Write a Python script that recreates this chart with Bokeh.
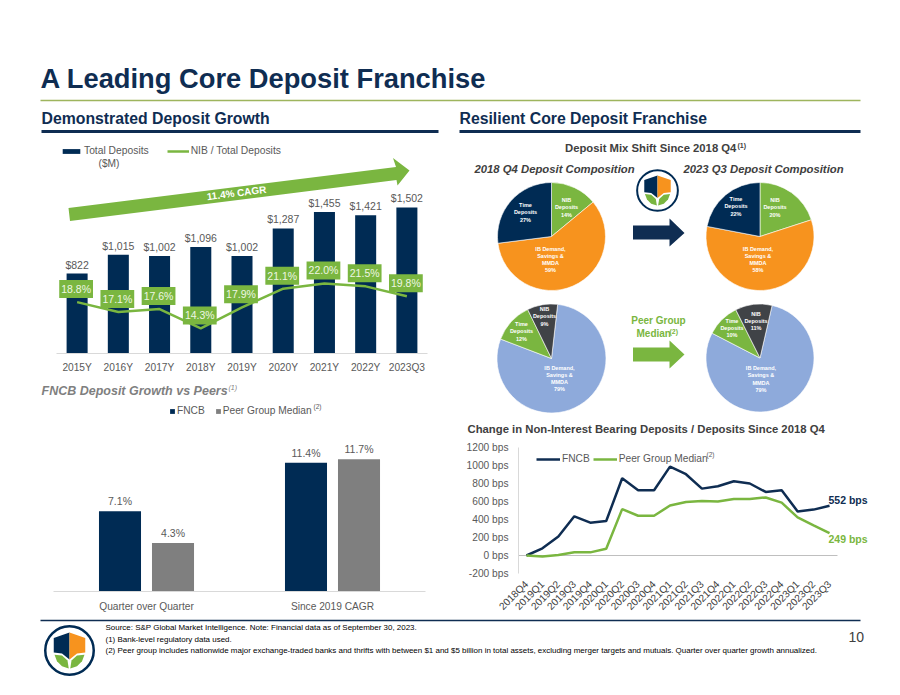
from math import pi
from bokeh.plotting import figure
from bokeh.layouts import column, row
from bokeh.models import (ColumnDataSource, Range1d, Label, Legend, LegendItem,
                          FixedTicker, PrintfTickFormatter)
from bokeh.core.properties import value
from bokeh.embed import file_html
from bokeh.resources import INLINE

# ---------- data ----------
years = ["2015Y", "2016Y", "2017Y", "2018Y", "2019Y", "2020Y", "2021Y", "2022Y", "2023Q3"]
total_deposits = [822, 1015, 1002, 1096, 1002, 1287, 1455, 1421, 1502]
nib_ratio = [18.8, 17.1, 17.6, 14.3, 17.9, 21.1, 22.0, 21.5, 19.8]

growth_groups = ["Quarter over Quarter", "Since 2019 CAGR"]
growth_fncb = [7.1, 11.4]
growth_peer = [4.3, 11.7]

quarters = ["2018Q4", "2019Q1", "2019Q2", "2019Q3", "2019Q4", "2020Q1", "2020Q2", "2020Q3", "2020Q4", "2021Q1",
            "2021Q2", "2021Q3", "2021Q4", "2022Q1", "2022Q2", "2022Q3", "2022Q4", "2023Q1", "2023Q2", "2023Q3"]
bps_fncb = [0, 80, 210, 435, 365, 383, 858, 725, 725, 988, 903, 743, 770, 825, 800, 706, 725, 490, 510, 552]
bps_peer = [0, -10, 5, 35, 35, 75, 515, 442, 442, 555, 595, 605, 600, 628, 628, 645, 587, 423, 335, 249]

fncb_cats = ["NIB\nDeposits", "IB Demand,\nSavings &\nMMDA", "Time\nDeposits"]
peer_cats = ["IB Demand,\nSavings &\nMMDA", "Time\nDeposits", "NIB\nDeposits"]
fncb_2018 = [14, 59, 27]
fncb_2023 = [20, 58, 22]
peer_2018 = [79, 12, 9]
peer_2023 = [79, 10, 11]

# ---------- style ----------
NAVY = "#002b54"
TXT_NAVY = "#0f2d52"
GREEN = "#7ab640"
ORANGE = "#f7931e"
BLUE = "#8eaadb"
DGRAY = "#404347"
GRAY = "#7f7f7f"
TXT = "#595959"
FONT = "Liberation Sans"
ORIGIN = {}


def lab(p, x, y, text, size=10, color=TXT, style="normal", align="left", angle=0):
    ox, oy = ORIGIN[p.id]
    p.add_layout(Label(x=x - ox, y=y - oy, x_units="canvas", y_units="canvas", text=text, text_font=FONT,
                       text_font_size=f"{size}px", text_color=color, text_font_style=style, text_align=align,
                       text_baseline="middle", angle=angle))


def canvas(x0, x1, y0, y1):
    p = figure(width=x1 - x0, height=y1 - y0, x_range=Range1d(x0, x1), y_range=Range1d(y1, y0),
               output_backend="svg", toolbar_location=None, x_axis_location=None, y_axis_location=None,
               min_border=0, outline_line_color=None, background_fill_color=None, border_fill_color=None,
               frame_align=False)
    p.grid.visible = False
    ORIGIN[p.id] = (x0, y0)
    return p


def chart(n, y_range, left, right, top, bottom, fx0, fx1, fy0, fy1, labels, x_extra=0, **kw):
    p = figure(width=right - left, height=bottom - top, x_range=Range1d(0, n + x_extra), y_range=y_range,
               output_backend="svg", toolbar_location=None, min_border_left=fx0 - left,
               min_border_right=right - fx1, min_border_top=fy0 - top, min_border_bottom=bottom - fy1,
               outline_line_color=None, background_fill_color=None, border_fill_color=None,
               frame_align=False, **kw)
    p.grid.visible = False
    ORIGIN[p.id] = (left, top)
    p.extra_x_ranges["px"] = Range1d(fx0, fx1)
    p.extra_y_ranges["py"] = Range1d(fy1, fy0)
    ticks = [i + 0.5 for i in range(n)]
    p.xaxis[0].ticker = FixedTicker(ticks=ticks)
    p.xaxis[0].major_label_overrides = dict(zip(ticks, labels))
    return p


def style_axis(ax, line="#d9d9d9", size=10.2):
    ax.major_tick_line_color = None
    ax.minor_tick_line_color = None
    ax.axis_line_color = line
    ax.major_label_text_font = FONT
    ax.major_label_text_font_size = f"{size}px"
    ax.major_label_text_color = TXT


def logo(p, cx, cy, R, lw):
    def T(pts):
        return [cx + a * R for a, b in pts], [cy + b * R for a, b in pts]
    xs, ys = T([(0, -.72), (-.63, -.5), (-.63, .08), (-.3, .12), (0, .36)])
    p.patch(xs, ys, fill_color=NAVY, line_color=None)
    xs, ys = T([(0, -.72), (.63, -.5), (.63, .08), (.3, .12), (0, .36)])
    p.patch(xs, ys, fill_color=ORANGE, line_color=None)
    xs, ys = T([(-.6, .17), (-.3, .2), (-.08, .4), (-.03, .72), (-.3, .63), (-.5, .43)])
    p.patch(xs, ys, fill_color=GREEN, line_color=None)
    xs, ys = T([(.6, .17), (.3, .2), (.08, .4), (.03, .72), (.3, .63), (.5, .43)])
    p.patch(xs, ys, fill_color=GREEN, line_color=None)
    p.circle([cx], [cy], radius=R * .97, fill_color=None, line_color=NAVY, line_width=lw)


# ---------- header ----------
head = canvas(0, 900, 0, 136)
lab(head, 40, 78, "A Leading Core Deposit Franchise", 27.3, TXT_NAVY, "bold")
head.line([40, 860], [100, 100], line_color="#9eb55e", line_width=1.5)
lab(head, 41, 118, "Demonstrated Deposit Growth", 15.8, TXT_NAVY, "bold")
lab(head, 459, 118, "Resilient Core Deposit Franchise", 15.8, TXT_NAVY, "bold")
head.line([41, 438], [131, 131], line_color=TXT_NAVY, line_width=3)
head.line([459, 860], [131, 131], line_color=TXT_NAVY, line_width=3)

# ---------- deposits bars + NIB line ----------
bar_src = ColumnDataSource(dict(x=[i + 0.5 for i in range(len(years))], y=total_deposits,
                                lab=[f"${v:,}" for v in total_deposits],
                                r=nib_ratio, rl=[f"{v:.1f}%" for v in nib_ratio]))
bar = chart(len(years), Range1d(0, 2232), 0, 449, 136, 380, 56, 427, 136, 353, years, y_axis_location=None)
bar.extra_y_ranges["pct"] = Range1d(10, 47.16)
style_axis(bar.xaxis[0])
bar.xaxis[0].major_label_standoff = 2
# CAGR arrow
bar.patch([68, 395.5, 392.5, 409, 397, 396, 69.5], [207.5, 166.5, 157.5, 170, 185, 179.5, 220.5],
          fill_color=GREEN, line_color=None, x_range_name="px", y_range_name="py")
r_bar = bar.vbar(x="x", top="y", width=0.51, source=bar_src, fill_color=NAVY, line_color=None)
bar.text(x="x", y="y", text="lab", source=bar_src, text_align="center", text_baseline="bottom", y_offset=-3,
         text_font=value(FONT), text_font_size="10.5px", text_color=TXT)
r_line = bar.line(x="x", y="r", source=bar_src, y_range_name="pct", line_color=GREEN, line_width=2.5)
bar.text(x="x", y="r", text="rl", source=bar_src, y_range_name="pct", y_offset=-13, x_offset=-1,
         text_align="center", text_baseline="middle", text_font=value(FONT), text_font_size="10.5px",
         text_color="#eef6e4", background_fill_color=GREEN, padding=(2, 3))
lab(bar, 236, 192.5, "11.4% CAGR", 10, "#ffffff", "bold", "center", angle=0.125)
lab(bar, 98, 163, "($M)", 10.2, TXT)
leg = Legend(items=[LegendItem(label="Total Deposits", renderers=[r_bar]),
                    LegendItem(label="NIB / Total Deposits", renderers=[r_line])],
             orientation="horizontal", location=(4, 197), glyph_width=22, glyph_height=6, label_standoff=2,
             spacing=18, padding=0, margin=0, background_fill_alpha=0, border_line_color=None,
             label_text_font=FONT, label_text_font_size="10.3px", label_text_color=TXT)
bar.add_layout(leg)

# ---------- growth vs peers ----------
strip = canvas(0, 449, 380, 398)
lab(strip, 41, 390, "FNCB Deposit Growth vs Peers", 12.5, GRAY, "bold italic")
lab(strip, 228, 387, "(1)", 7, GRAY, "italic")

gx = [i + 0.5 for i in range(len(growth_groups))]
g_src = ColumnDataSource(dict(xa=[v - 0.1425 for v in gx], xb=[v + 0.1425 for v in gx], a=growth_fncb, b=growth_peer,
                              al=[f"{v:.1f}%" for v in growth_fncb], bl=[f"{v:.1f}%" for v in growth_peer]))
grp = chart(len(growth_groups), Range1d(0, 17.08), 0, 449, 398, 618, 53, 425, 398, 591, growth_groups,
            y_axis_location=None)
style_axis(grp.xaxis[0])
grp.xaxis[0].major_label_standoff = 3
r_a = grp.vbar(x="xa", top="a", width=0.226, source=g_src, fill_color=NAVY, line_color=None)
r_b = grp.vbar(x="xb", top="b", width=0.226, source=g_src, fill_color=GRAY, line_color=None)
for xx, yy, tt in [("xa", "a", "al"), ("xb", "b", "bl")]:
    grp.text(x=xx, y=yy, text=tt, source=g_src, text_align="center", text_baseline="bottom", y_offset=-4,
             text_font=value(FONT), text_font_size="10.5px", text_color=TXT)
lab(grp, 313, 406, "(2)", 6.5, TXT)
leg = Legend(items=[LegendItem(label="FNCB", renderers=[r_a]), LegendItem(label="Peer Group Median", renderers=[r_b])],
             orientation="horizontal", location=(116, 175), glyph_width=6, glyph_height=6, label_standoff=2,
             spacing=10, padding=0, margin=0, background_fill_alpha=0, border_line_color=None,
             label_text_font=FONT, label_text_font_size="10.2px", label_text_color=TXT)
grp.add_layout(leg)

# ---------- pies ----------
pie = canvas(449, 900, 136, 440)


def draw_pie(cx, cy, r, vals, cats, colors, start, label_pos):
    cum = start
    s, e = [], []
    for v in vals:
        s.append(pi / 2 - cum * 2 * pi / 100)
        cum += v
        e.append(pi / 2 - cum * 2 * pi / 100)
    src = ColumnDataSource(dict(s=s, e=e, c=colors, x=[cx] * len(vals), y=[cy] * len(vals)))
    pie.wedge(x="x", y="y", radius=r, start_angle="s", end_angle="e", direction="clock", source=src,
              fill_color="c", line_color="#ffffff", line_width=0.6)
    pie.text(x=[cx + a for a, b in label_pos], y=[cy + b for a, b in label_pos],
             text=[f"{c}\n{v}%" for c, v in zip(cats, vals)], text_align="center", text_baseline="middle",
             text_font=value(FONT), text_font_style="bold", text_font_size="5.5px", text_color="#ffffff",
             text_line_height=1.2)


draw_pie(551, 236, 54, fncb_2018, fncb_cats, [GREEN, ORANGE, NAVY], 0, [(15, -29), (-1, 23), (-26, -24)])
draw_pie(759.5, 236, 54, fncb_2023, fncb_cats, [GREEN, ORANGE, NAVY], 0, [(15, -29), (-2, 23), (-24, -30)])
draw_pie(551, 358, 54.5, peer_2018, peer_cats, [BLUE, GREEN, DGRAY], 1.8, [(8, 20), (-30, -27), (-7, -42)])
draw_pie(759.5, 357.5, 54, peer_2023, peer_cats, [BLUE, GREEN, DGRAY], 3.6, [(1, 21), (-28, -30), (-4, -37)])

lab(pie, 564.5, 147, "Deposit Mix Shift Since 2018 Q4", 11.3, "#404040", "bold")
lab(pie, 737, 145, "(1)", 7, "#404040", "bold")
lab(pie, 474, 168, "2018 Q4 Deposit Composition", 11.3, "#404040", "bold italic")
lab(pie, 683, 168, "2023 Q3 Deposit Composition", 11.3, "#404040", "bold italic")
lab(pie, 658, 320, "Peer Group", 10, GREEN, "bold", "center")
lab(pie, 636, 333, "Median", 10, GREEN, "bold")
lab(pie, 669, 331, "(2)", 7, GREEN, "bold")
pie.patch([632.5, 669, 669, 684, 669, 669, 632.5], [225, 225, 218, 232.5, 246, 239, 239],
          fill_color=TXT_NAVY, line_color=None)
pie.patch([632.5, 669, 669, 684, 669, 669, 632.5], [347, 347, 340, 354, 368, 361, 361],
          fill_color=GREEN, line_color=None)
logo(pie, 657, 190, 21, 2)
lab(pie, 467, 428, "Change in Non-Interest Bearing Deposits / Deposits Since 2018 Q4", 11.3, "#404040", "bold")

# ---------- bps line ----------
l_src = ColumnDataSource(dict(x=[i + 0.5 for i in range(len(quarters))], a=bps_fncb, b=bps_peer))
ln = chart(len(quarters), Range1d(-200, 1200), 449, 900, 440, 618, 518, 870, 447, 573, quarters, x_extra=2.069)
style_axis(ln.yaxis[0])
ln.yaxis[0].ticker = FixedTicker(ticks=list(range(-200, 1201, 200)))
ln.yaxis[0].formatter = PrintfTickFormatter(format="%d bps")
ln.yaxis[0].major_label_standoff = 4
style_axis(ln.xaxis[0], line=None)
ln.xaxis[0].major_label_orientation = pi / 4
ln.xaxis[0].major_label_standoff = 3
ln.xaxis[0].major_label_text_color = "#404040"
ln.line([0, len(quarters)], [0, 0], line_color="#bfbfbf", line_width=1)
r1 = ln.line(x="x", y="a", source=l_src, line_color=TXT_NAVY, line_width=2.5)
r2 = ln.line(x="x", y="b", source=l_src, line_color=GREEN, line_width=2.5)
ln.text(x=[l_src.data["x"][-1]], y=[bps_fncb[-1]], text=[f"{bps_fncb[-1]} bps"], y_offset=-6, x_offset=-1,
        text_baseline="middle", text_font=value(FONT), text_font_style="bold", text_font_size="10.5px",
        text_color=TXT_NAVY)
ln.text(x=[l_src.data["x"][-1]], y=[bps_peer[-1]], text=[f"{bps_peer[-1]} bps"], y_offset=5.5, x_offset=-1,
        text_baseline="middle", text_font=value(FONT), text_font_style="bold", text_font_size="10.5px",
        text_color=GREEN)
lab(ln, 706, 454, "(2)", 6.5, TXT)
leg = Legend(items=[LegendItem(label="FNCB", renderers=[r1]), LegendItem(label="Peer Group Median", renderers=[r2])],
             orientation="horizontal", location=(18, 109), glyph_width=24, glyph_height=6, label_standoff=2,
             spacing=3, padding=0, margin=0, background_fill_alpha=0, border_line_color=None,
             label_text_font=FONT, label_text_font_size="10.2px", label_text_color=TXT)
ln.add_layout(leg)

# ---------- footer ----------
foot = canvas(0, 900, 618, 692)
foot.line([40, 860], [620, 620], line_color=TXT_NAVY, line_width=1.5)
logo(foot, 69, 650, 25, 2.5)
lab(foot, 105, 627, "Source: S&P Global Market Intelligence. Note: Financial data as of September 30, 2023.", 7.97, "#000000")
lab(foot, 105, 638.5, "(1) Bank-level regulatory data used.", 7.97, "#000000")
lab(foot, 105, 649.5, "(2) Peer group includes nationwide major exchange-traded banks and thrifts with between $1 and $5 billion "
    "in total assets, excluding merger targets and mutuals. Quarter over quarter growth annualized.", 7.97, "#000000")
lab(foot, 848, 636, "10", 14, "#404040")

page = column(head,
              row(column(bar, strip, grp, spacing=0), column(pie, ln, spacing=0), spacing=0),
              foot, spacing=0)
open("out.html", "w").write(file_html(page, INLINE))
